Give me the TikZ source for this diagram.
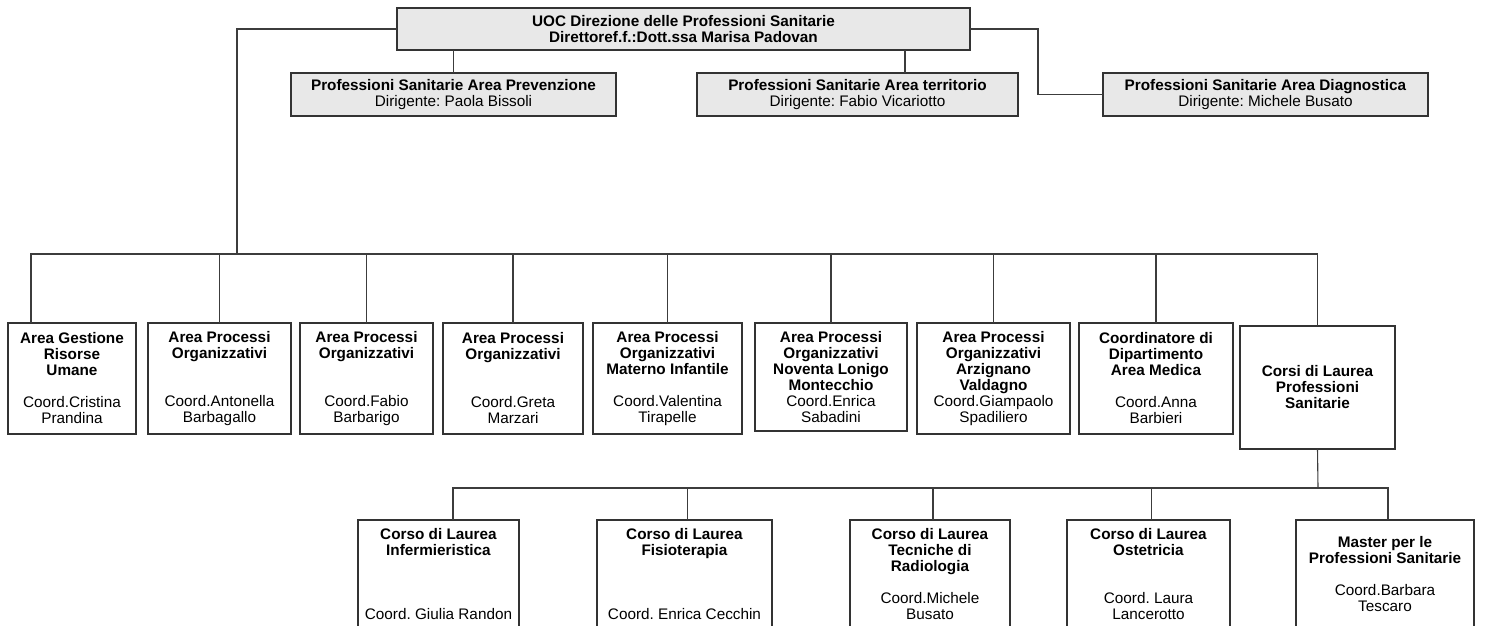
\documentclass[tikz,border=0pt]{standalone}
\usepackage{fontspec}
\setmainfont{Liberation Sans}
\usepackage{tikz}
\definecolor{boxline}{HTML}{333333}
\definecolor{headfill}{HTML}{E8E8E8}
\definecolor{wire}{HTML}{3C3C3C}
\frenchspacing

\begin{document}
\begin{tikzpicture}[x=1pt, y=-1pt,
    every node/.style={inner sep=0, outer sep=0, align=center, font=\fontsize{15.3}{16}\selectfont},
    head/.style={draw=boxline, line width=1.2pt, fill=headfill},
    unit/.style={draw=boxline, line width=1.2pt, fill=white},
    wire/.style={draw=wire, line width=1.1pt}]
      \useasboundingbox (0,0) rectangle (1488,625);
      \clip (0,0) rectangle (1488,625);
      % direzione e aree
      \node[head, minimum width=573, minimum height=42] (D) at (683.5,29) {\textbf{UOC Direzione delle Professioni Sanitarie}\\\textbf{Direttoref.f.:Dott.ssa Marisa Padovan}};
      \node[head, minimum width=325, minimum height=43] (pv) at (453.5,94.5) {\textbf{Professioni Sanitarie Area Prevenzione}\\Dirigente: Paola Bissoli};
      \node[head, minimum width=321, minimum height=43] (tr) at (857.5,94.5) {\textbf{Professioni Sanitarie Area territorio}\\Dirigente: Fabio Vicariotto};
      \node[head, minimum width=325, minimum height=43] (dg) at (1265.5,94.5) {\textbf{Professioni Sanitarie Area Diagnostica}\\Dirigente: Michele Busato};
      % coordinatori
      \node[unit, minimum width=128, minimum height=111] (m1) at (72,378.5) {\textbf{Area Gestione}\\\textbf{Risorse}\\\textbf{Umane}\\[16pt]Coord.Cristina\\Prandina};
      \node[unit, minimum width=143, minimum height=111] (m2) at (219.5,378.5) {\textbf{Area Processi}\\\textbf{Organizzativi}\\[32pt]Coord.Antonella\\Barbagallo};
      \node[unit, minimum width=133, minimum height=111] (m3) at (366.5,378.5) {\textbf{Area Processi}\\\textbf{Organizzativi}\\[32pt]Coord.Fabio\\Barbarigo};
      \node[unit, minimum width=140, minimum height=111] (m4) at (513,378.5) {\textbf{Area Processi}\\\textbf{Organizzativi}\\[32pt]Coord.Greta\\Marzari};
      \node[unit, minimum width=149, minimum height=111] (m5) at (667.5,378.5) {\textbf{Area Processi}\\\textbf{Organizzativi}\\\textbf{Materno Infantile}\\[16pt]Coord.Valentina\\Tirapelle};
      \node[unit, minimum width=152, minimum height=108] (m6) at (831,377) {\textbf{Area Processi}\\\textbf{Organizzativi}\\\textbf{Noventa Lonigo}\\\textbf{Montecchio}\\Coord.Enrica\\Sabadini};
      \node[unit, minimum width=153, minimum height=111] (m7) at (993.5,378.5) {\textbf{Area Processi}\\\textbf{Organizzativi}\\\textbf{Arzignano}\\\textbf{Valdagno}\\Coord.Giampaolo\\Spadiliero};
      \node[unit, minimum width=154, minimum height=111] (m8) at (1156,378.5) {\textbf{Coordinatore di}\\\textbf{Dipartimento}\\\textbf{Area Medica}\\[16pt]Coord.Anna\\Barbieri};
      \node[unit, minimum width=155, minimum height=123] (m9) at (1317.5,387.5) {\textbf{Corsi di Laurea}\\\textbf{Professioni}\\\textbf{Sanitarie}};
      % corsi di laurea
      \node[unit, minimum width=161, minimum height=140] (b1) at (438.5,590) {\textbf{Corso di Laurea}\\\textbf{Infermieristica}\\[48pt]Coord. Giulia Randon\\[16pt]\mbox{}};
      \node[unit, minimum width=175, minimum height=140] (b2) at (684.5,590) {\textbf{Corso di Laurea}\\\textbf{Fisioterapia}\\[48pt]Coord. Enrica Cecchin\\[16pt]\mbox{}};
      \node[unit, minimum width=160, minimum height=140] (b3) at (930,590) {\textbf{Corso di Laurea}\\\textbf{Tecniche di}\\\textbf{Radiologia}\\[16pt]Coord.Michele\\Busato\\[16pt]\mbox{}};
      \node[unit, minimum width=163, minimum height=140] (b4) at (1148.5,590) {\textbf{Corso di Laurea}\\\textbf{Ostetricia}\\[32pt]Coord. Laura\\Lancerotto\\[16pt]\mbox{}};
      \node[unit, minimum width=178, minimum height=140] (b5) at (1385,590) {\textbf{Master per le}\\\textbf{Professioni Sanitarie}\\[16pt]Coord.Barbara\\Tescaro\\[16pt]\mbox{}};
      % collegamenti
      \coordinate (bus) at (237,254);
      \coordinate (dj) at (1038,29);
      \coordinate (bus2) at (1318,488);
      \draw[wire] (D.west) -| (bus);
      \draw[wire] (D.east) -- (dj) |- (dg.west);
      \draw[wire] (D.south -| pv.north) -- (pv.north);
      \draw[wire] ([xshift=47.5]tr.north |- D.south) -- ([xshift=47.5]tr.north);
      \draw[wire] ([xshift=-41]m1.north) |- (bus);
      \foreach \n in {m2,m3,m4,m5,m6,m7,m8,m9}
        \draw[wire] (\n.north) |- (bus);
      \draw[wire] (m9.south) -- (bus2);
      \draw[wire] ([xshift=14.5]b1.north) |- (bus2);
      \foreach \n in {b2,b3,b4,b5}
        \draw[wire] ([xshift=3]\n.north) |- (bus2);
\end{tikzpicture}
\end{document}
